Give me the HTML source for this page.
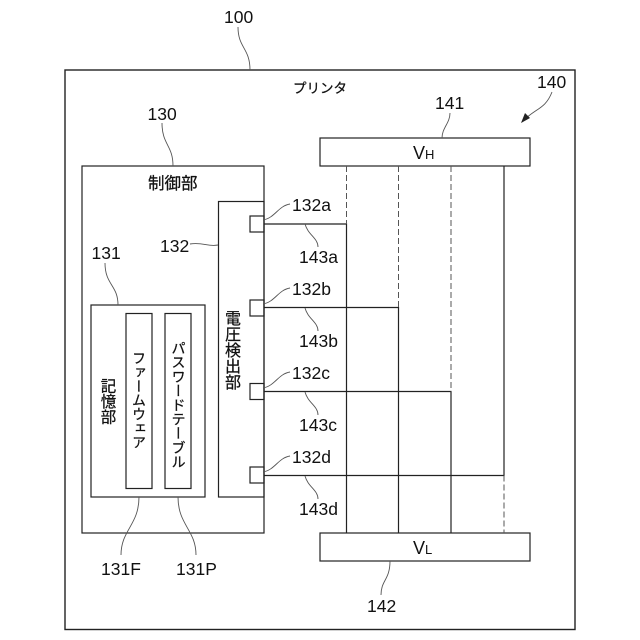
<!DOCTYPE html>
<html><head><meta charset="utf-8"><style>
html,body{margin:0;padding:0;background:#fff}
svg{display:block}
text{font-family:"Liberation Sans","Noto Sans CJK JP",sans-serif;fill:#111}
.n{font-size:17.5px}
.c{stroke:#111;stroke-width:.25}
.v{writing-mode:vertical-rl}
</style></head><body>
<svg width="640" height="640" viewBox="0 0 640 640" xmlns="http://www.w3.org/2000/svg">
<g fill="none" stroke="#222" stroke-width="1.2">
<rect x="65" y="70" width="510" height="559.5" stroke-width="1.4"/>
<rect x="82" y="166" width="182" height="367"/>
<rect x="218.5" y="201.5" width="45.5" height="295.5"/>
<rect x="91" y="305" width="114" height="192"/>
<rect x="126" y="313.5" width="26" height="175"/>
<rect x="165" y="313.5" width="26" height="175"/>
<rect x="250" y="216" width="14" height="16"/>
<rect x="250" y="300" width="14" height="16"/>
<rect x="250" y="383.5" width="14" height="16"/>
<rect x="250" y="467" width="14" height="16"/>
<rect x="320" y="138" width="210" height="28"/>
<rect x="320" y="533" width="210" height="28"/>
<path d="M264 224H346.5V533M264 307.5H398.5V533M264 391.5H451V533M264 475.5H504V166"/>
</g>
<g fill="none" stroke="#555" stroke-width="1" stroke-dasharray="6 3">
<path d="M346.5 166V224M398.5 166V307.5M451 166V391.5M504 475.5V533"/>
</g>
<g fill="none" stroke="#555" stroke-width="0.9">
<path d="M238 27 C 238 48 250 48 250 70"/>
<path d="M162 123 C 162 145 173 145 173 166"/>
<path d="M105 263 C 105 285 118 285 118 305"/>
<path d="M190 244 C 203 242 208 247 218 245"/>
<path d="M450 113 C 450 123 442 128 442 138"/>
<path d="M139 497 C 139 525 121 530 121 555"/>
<path d="M178 497 C 178 525 196 530 196 555"/>
<path d="M390 561 C 390 580 381 580 381 595"/>
<path d="M263 220 C 275 218 278 206 290 204"/>
<path d="M263 304 C 275 302 278 290 290 288"/>
<path d="M263 388 C 275 386 278 374 290 372"/>
<path d="M263 472 C 275 470 278 458 290 456"/>
<path d="M305 224 C 308 235 318 238 318 247"/>
<path d="M305 308 C 308 319 318 322 318 331"/>
<path d="M305 392 C 308 403 318 406 318 415"/>
<path d="M305 476 C 308 487 318 490 318 499"/>
<path d="M552 92 C 545 110 535 108 522 122"/>
</g>
<path d="M521 123 L530 118 L525 113 Z" fill="#222"/>
<text class="n" x="224" y="23">100</text>
<text class="n" x="147.500" y="120">130</text>
<text class="n" x="91.500" y="259">131</text>
<text class="n" x="160" y="252">132</text>
<text class="n" x="435" y="109">141</text>
<text class="n" x="537" y="88">140</text>
<text class="n" x="292" y="211">132a</text>
<text class="n" x="292" y="295">132b</text>
<text class="n" x="292" y="379">132c</text>
<text class="n" x="292" y="463">132d</text>
<text class="n" x="299" y="263">143a</text>
<text class="n" x="299" y="347">143b</text>
<text class="n" x="299" y="431">143c</text>
<text class="n" x="299" y="515">143d</text>
<text class="n" x="367" y="612">142</text>
<text class="n" x="101" y="575">131F</text>
<text class="n" x="176" y="575">131P</text>
<text x="413" y="159" font-size="18">V<tspan font-size="13">H</tspan></text>
<text x="413" y="554" font-size="18">V<tspan font-size="13">L</tspan></text>
<text class="c" x="293" y="93" font-size="13.5">プリンタ</text>
<text class="c" x="148" y="189" font-size="16.5">制御部</text>
<text class="v c" x="230.500" y="310" font-size="16">電圧検出部</text>
<text class="v c" x="107" y="378" font-size="15.5">記憶部</text>
<text class="v c" x="139" y="351" font-size="14">ファームウェア</text>
<text class="v c" x="177.500" y="341" font-size="14.2">パスワードテーブル</text>
</svg>
</body></html>
